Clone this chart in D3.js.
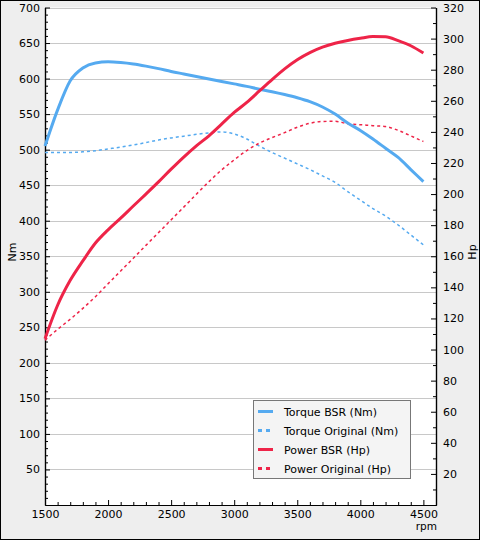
<!DOCTYPE html>
<html><head><meta charset="utf-8">
<script src="https://cdn.jsdelivr.net/npm/d3@7"></script>
<style>body{margin:0;padding:0;background:#fff}svg{display:block}text{font-family:"DejaVu Sans",sans-serif}</style>
</head><body>
<script>
const rpm = [1500,1600,1700,1800,1900,2000,2100,2200,2300,2400,2500,2600,2700,2800,2900,3000,3100,3200,3300,3400,3500,3600,3700,3800,3900,4000,4100,4200,4300,4400,4500];
const torqueBSR = [505,556,597,615,622,623.5,622.5,620.5,617.5,614,610,606.5,603,599.5,596,592.5,589,585,581.5,577.5,573,567.5,560,550,537.5,527,515,502,489,472,455];
const torqueOrig = [496,496,496,497,498.5,501,503.5,506.5,510,513.5,516.5,519,521.5,523.5,525,522,515,505,496,488,480,472,463,454,441,429,417,406.5,394,380,366];
const powerBSR = [107,128.5,144.5,157,168.5,177,184.5,192.3,200,207.8,216,223.8,231,237.5,245,252.5,259,266.3,273.6,280.5,286.4,291,294.5,297,298.8,300.2,301.3,301.2,298.7,295.4,290.7];
const powerOrig = [106,113,119.5,126.5,134,142.3,150.5,158.7,167,175.2,183.4,191.6,199.9,208,215.5,222,228,232.8,236.3,239.5,243,245.5,246.7,246.8,245.2,244.6,244,243.4,241,237.4,233.8];
const xTicks = [1500,2000,2500,3000,3500,4000,4500];
const nmTicks = [50,100,150,200,250,300,350,400,450,500,550,600,650,700];
const hpTicks = [20,40,60,80,100,120,140,160,180,200,220,240,260,280,300,320];
const legendLabels = ["Torque BSR (Nm)","Torque Original (Nm)","Power BSR (Hp)","Power Original (Hp)"];

const W=480,H=540;
const blue="#55aaf0", red="#ee2448";
const svg=d3.select("body").append("svg").attr("width",W).attr("height",H);
svg.append("rect").attr("x",0.5).attr("y",0.5).attr("width",W-1).attr("height",H-1).attr("fill","#eeeeee").attr("stroke","#000");

const L=45,R=436,T=7.5,B=505;
const x=d3.scaleLinear().domain([1500,4600]).range([L,R]);
const yN=d3.scaleLinear().domain([0,700]).range([B,T]);
const yH=d3.scaleLinear().domain([0,320]).range([B,T]);

svg.append("rect").attr("x",L).attr("y",T).attr("width",R-L).attr("height",B-T).attr("fill","#fff");

// gridlines
svg.append("g").selectAll("line").data(nmTicks).join("line")
  .attr("x1",L).attr("x2",R).attr("y1",d=>Math.round(yN(d))+0.5).attr("y2",d=>Math.round(yN(d))+0.5)
  .attr("stroke","#c8c8c8").attr("stroke-width",1);

// axes
const minorN=d3.range(0,701,10).filter(d=>d%50!==0);
const minorH=d3.range(0,321,10).filter(d=>d%20!==0);
const minorX=d3.range(1500,4501,100).filter(d=>d%500!==0);

svg.append("g").attr("transform",`translate(${L},0)`)
  .call(d3.axisLeft(yN).tickValues(minorN).tickSizeInner(-3).tickSizeOuter(0).tickFormat(""));
svg.append("g").attr("transform",`translate(${L},0)`)
  .call(d3.axisLeft(yN).tickValues(nmTicks).tickSizeInner(-5).tickSizeOuter(0).tickPadding(5));

svg.append("g").attr("transform",`translate(${R},0)`)
  .call(d3.axisRight(yH).tickValues(minorH).tickSizeInner(-3).tickSizeOuter(0).tickFormat(""));
svg.append("g").attr("transform",`translate(${R},0)`)
  .call(d3.axisRight(yH).tickValues(hpTicks).tickSizeInner(-5).tickSizeOuter(0).tickPadding(7));

svg.append("g").attr("transform",`translate(0,${B})`)
  .call(d3.axisBottom(x).tickValues(minorX).tickSizeInner(-3).tickSizeOuter(0).tickFormat(""));
svg.append("g").attr("transform",`translate(0,${B})`)
  .call(d3.axisBottom(x).tickValues(xTicks).tickSizeInner(-5).tickSizeOuter(0).tickPadding(5).tickFormat(d3.format("d")));

svg.selectAll(".domain").attr("stroke","#000").attr("stroke-width",1.2);
svg.selectAll(".tick line").attr("stroke","#000");
svg.selectAll(".tick text").attr("font-size",11).attr("font-family","DejaVu Sans").attr("fill","#000");

// axis titles
svg.append("text").attr("transform",`translate(16,252) rotate(-90)`).attr("text-anchor","middle").attr("font-size",11).text("Nm");
svg.append("text").attr("transform",`translate(476,252) rotate(-90)`).attr("text-anchor","middle").attr("font-size",11).text("Hp");
svg.append("text").attr("x",437).attr("y",530).attr("text-anchor","end").attr("font-size",10.5).text("rpm");

// lines
const lineN=d3.line().x((d,i)=>x(rpm[i])).y(d=>yN(d)).curve(d3.curveMonotoneX);
const lineH=d3.line().x((d,i)=>x(rpm[i])).y(d=>yH(d)).curve(d3.curveMonotoneX);
const plot=svg.append("g");
plot.append("path").datum(torqueOrig).attr("d",lineN).attr("fill","none").attr("stroke",blue).attr("stroke-width",1.5).attr("stroke-dasharray","3,3");
plot.append("path").datum(powerOrig).attr("d",lineH).attr("fill","none").attr("stroke",red).attr("stroke-width",1.5).attr("stroke-dasharray","3,3");
plot.append("path").datum(torqueBSR).attr("d",lineN).attr("fill","none").attr("stroke",blue).attr("stroke-width",3);
plot.append("path").datum(powerBSR).attr("d",lineH).attr("fill","none").attr("stroke",red).attr("stroke-width",3);

// legend
const lg=svg.append("g");
lg.append("rect").attr("x",253.5).attr("y",400.5).attr("width",157).attr("height",78).attr("fill","#f4f4f4").attr("stroke","#777");
const styles=[{c:blue,d:null},{c:blue,d:"4,4"},{c:red,d:null},{c:red,d:"4,4"}];
const rowY=[412.5,431.5,450.5,469.5];
legendLabels.forEach((t,i)=>{
  lg.append("line").attr("x1",258).attr("x2",273).attr("y1",rowY[i]-1).attr("y2",rowY[i]-1)
    .attr("stroke",styles[i].c).attr("stroke-width",3).attr("stroke-dasharray",styles[i].d);
  lg.append("text").attr("x",284).attr("y",rowY[i]).attr("dy","0.32em").attr("font-size",11).attr("fill","#000").text(t);
});
</script>
</body></html>
